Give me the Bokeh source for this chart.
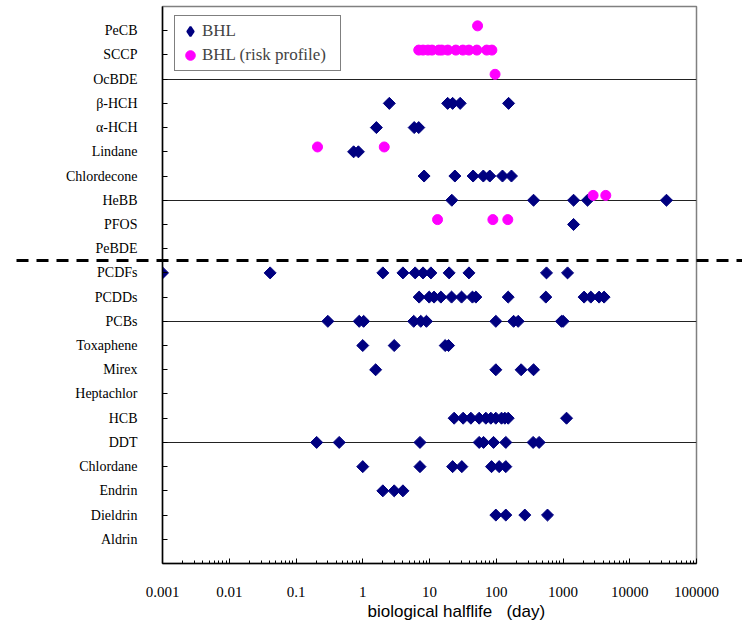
import numpy as np
from bokeh.plotting import figure
from bokeh.models import (Range1d, FixedTicker, ColumnDataSource, Legend, LegendItem,
                          Title, CustomJSTickFormatter)
from bokeh.transform import dodge
from bokeh.embed import file_html
from bokeh.resources import INLINE

# categories, bottom (1) to top (22)
categories = ["Aldrin", "Dieldrin", "Endrin", "Chlordane", "DDT", "HCB", "Heptachlor",
              "Mirex", "Toxaphene", "PCBs", "PCDDs", "PCDFs", "PeBDE", "PFOS", "HeBB",
              "Chlordecone", "Lindane", "α-HCH", "β-HCH", "OcBDE", "SCCP", "PeCB"]

x_ticks = [0.001, 0.01, 0.1, 1, 10, 100, 1000, 10000, 100000]
x_tick_labels = ["0.001", "0.01", "0.1", "1", "10", "100", "1000", "10000", "100000"]

# BHL series (navy diamonds)
bhl_compound = (["β-HCH"] * 5 + ["α-HCH"] * 3 + ["Lindane"] * 2 + ["Chlordecone"] * 7 +
                ["HeBB"] * 5 + ["PFOS"] * 1 + ["PCDFs"] * 11 + ["PCDDs"] * 14 +
                ["PCBs"] * 11 + ["Toxaphene"] * 4 + ["Mirex"] * 4 + ["HCB"] * 11 +
                ["DDT"] * 9 + ["Chlordane"] * 7 + ["Endrin"] * 3 + ["Dieldrin"] * 4)
bhl_days = [2.5, 18.7, 22.2, 28.8, 153,
            1.6, 5.9, 6.9,
            0.73, 0.86,
            8.3, 24, 45, 64, 80, 124, 169,
            21.6, 362, 1440, 2330, 35500,
            1440,
            0.001, 0.041, 2.0, 4.0, 6.1, 8.0, 10.5, 19.7, 39, 566, 1170,
            7.0, 9.9, 11.7, 14.8, 21.4, 30.2, 44, 49.5, 151, 553, 2070, 2610, 3475, 4130,
            0.30, 0.885, 1.03, 5.8, 7.4, 9.0, 98.6, 182, 213, 950, 1004,
            1.0, 2.96, 17.2, 19.3,
            1.56, 98.6, 236, 362,
            23.4, 31.9, 41.7, 55.5, 69.9, 83, 98.6, 120, 134.6, 151, 1130,
            0.204, 0.444, 7.2, 55.5, 64.5, 91, 139, 357, 439,
            1.0, 7.2, 22.2, 30.5, 85, 110.6, 139,
            2.0, 2.96, 4.0,
            98.6, 139, 268, 586]

# BHL (risk profile) series (magenta circles)
risk_compound = (["PeCB"] * 1 + ["SCCP"] * 13 + ["OcBDE"] * 1 + ["Lindane"] * 2 +
                 ["HeBB"] * 2 + ["PFOS"] * 3)
risk_days = [52.5,
             6.9, 8.0, 9.5, 10.9, 13.8, 15.3, 18.8, 24.8, 31.6, 38.9, 51.2, 72, 86,
             96,
             0.21, 2.1,
             2825, 4376,
             13.2, 89, 149]

group_boundary = 12.5   # between PeBDE and PCDFs
major_gridlines = [5, 10, 15, 20]

ypos = {c: i + 1 for i, c in enumerate(categories)}

p = figure(width=742, height=626, x_axis_type="log",
           x_range=Range1d(0.001, 100000), y_range=Range1d(0, 23),
           output_backend="svg", toolbar_location=None,
           min_border_left=162, min_border_right=46, min_border_top=6, min_border_bottom=63)
p.background_fill_color = "white"
p.border_fill_color = "white"
p.outline_line_color = "#808080"
p.outline_line_width = 1.5

bhl_src = ColumnDataSource(dict(x=bhl_days, y=[ypos[c] for c in bhl_compound]))
risk_src = ColumnDataSource(dict(x=risk_days, y=[ypos[c] for c in risk_compound]))

r1 = p.scatter("x", "y", source=bhl_src, marker="square", angle=np.pi / 4, size=8.5,
               fill_color="#000080", line_color="#000080")
r2 = p.scatter("x", dodge("y", 0.2), source=risk_src, marker="circle", size=10,
               fill_color="#FF00FF", line_color="#FF00FF")
# hidden renderer used only to draw a diamond key in the legend
r1_key = p.scatter("x", "y", source=bhl_src, marker="diamond", visible=False,
                   fill_color="#000080", line_color="#000080", line_width=2)

# x axis
minor = [m * d for d in x_ticks[:-1] for m in range(2, 10)]
p.xaxis.ticker = FixedTicker(ticks=x_ticks, minor_ticks=minor)
p.xaxis.formatter = CustomJSTickFormatter(args=dict(labels=x_tick_labels, vals=x_ticks),
    code="""
    let best = 0, bd = 1e9;
    for (let i = 0; i < vals.length; i++) {
      const d = Math.abs(Math.log10(vals[i]) - Math.log10(tick));
      if (d < bd) { bd = d; best = i; }
    }
    return labels[best];
    """)
p.xaxis.major_tick_in = 5
p.xaxis.major_tick_out = 0
p.xaxis.minor_tick_in = 3
p.xaxis.minor_tick_out = 0
p.xaxis.major_label_standoff = 23
p.xaxis.major_label_text_font = "Liberation Serif"
p.xaxis.major_label_text_font_size = "15px"
p.xaxis.major_label_text_color = "black"
p.xaxis.axis_line_color = "black"
p.xaxis.axis_line_width = 1.5
p.xaxis.major_tick_line_color = "black"
p.xaxis.minor_tick_line_color = "black"

# y axis; its single minor tick is the dashed group separator running across the page
p.yaxis.ticker = FixedTicker(ticks=list(range(1, len(categories) + 1)),
                             minor_ticks=[group_boundary])
p.yaxis.formatter = CustomJSTickFormatter(args=dict(cats=categories),
    code="return cats[Math.round(tick) - 1] || '';")
p.yaxis.major_tick_in = 5
p.yaxis.major_tick_out = 0
p.yaxis.minor_tick_in = 580
p.yaxis.minor_tick_out = 146
p.yaxis.minor_tick_line_width = 3
p.yaxis.minor_tick_line_dash = "12 8"
p.yaxis.minor_tick_line_color = "black"
p.yaxis.major_label_standoff = -121
p.yaxis.major_label_text_font = "Liberation Serif"
p.yaxis.major_label_text_font_size = "14px"
p.yaxis.major_label_text_color = "black"
p.yaxis.axis_line_color = "black"
p.yaxis.axis_line_width = 1.5
p.yaxis.major_tick_line_color = "black"

# grid
p.xgrid.visible = False
p.ygrid.ticker = FixedTicker(ticks=major_gridlines)
p.ygrid.grid_line_color = "#222222"
p.ygrid.grid_line_width = 1

# axis title
p.add_layout(Title(text="biological halflife\u00a0\u00a0\u00a0(day)", align="left", offset=205,
                   text_font="Liberation Sans", text_font_size="17px",
                   text_font_style="normal", text_color="black", standoff=0), "below")

legend = Legend(items=[LegendItem(label="BHL", renderers=[r1_key]),
                       LegendItem(label="BHL (risk profile)", renderers=[r2])],
                location=(12, 492))
legend.margin = 0
legend.padding = 3
legend.spacing = 0
legend.label_height = 24
legend.glyph_height = 24
legend.glyph_width = 24
legend.label_standoff = 0
legend.label_width = 135
legend.label_text_font = "Liberation Serif"
legend.label_text_font_size = "17px"
legend.border_line_color = "black"
legend.border_line_width = 1
legend.background_fill_alpha = 1
p.add_layout(legend)

open("out.html", "w").write(file_html(p, INLINE))
